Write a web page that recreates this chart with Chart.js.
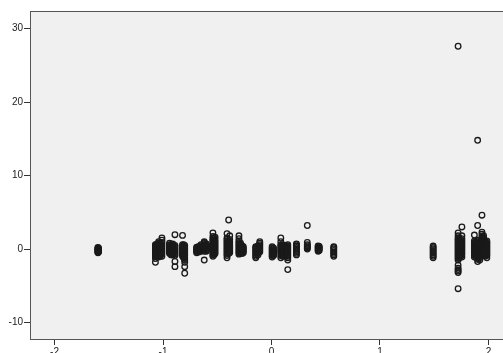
<!DOCTYPE html>
<html>
<head>
<meta charset="utf-8">
<script src="https://cdn.jsdelivr.net/npm/chart.js@4/dist/chart.umd.min.js"></script>
<style>
  html,body{margin:0;padding:0;background:#fff;overflow:hidden;width:503px;height:353px;}
  #wrap{position:absolute;left:0;top:0;}
</style>
</head>
<body>
<div id="wrap"><canvas id="chart" width="520" height="365"></canvas></div>
<script>
// x position of each vertical strip of cases, and the y values in that strip
const stripX = [
  -1.60, -1.595,
  -1.07, -1.055, -1.04, -1.025, -1.01, -0.94, -0.925, -0.91, -0.89, -0.82, -0.81, -0.80,
  -0.69, -0.67, -0.65, -0.62, -0.60, -0.54, -0.53, -0.52, -0.41, -0.395, -0.385,
  -0.30, -0.285, -0.27, -0.26, -0.145, -0.125, -0.108,
  0.006, 0.02, 0.086, 0.10, 0.115, 0.13, 0.15, 0.23, 0.33, 0.43, 0.44, 0.574,
  1.49, 1.72, 1.73, 1.745, 1.755, 1.87, 1.885, 1.90, 1.92, 1.94, 1.955, 1.97, 1.985
];
const stripY = [
  [-0.5,-0.4,-0.3,-0.2,-0.1,0,0.1,0.2],
  [-0.45,-0.35,-0.25,-0.15,-0.05,0.05,0.15],
  [-1.8,-1.3,-1.0,-0.85,-0.7,-0.55,-0.4,-0.25,-0.1,0.05,0.2,0.35,0.5,0.6],
  [-1.1,-0.9,-0.7,-0.5,-0.3,-0.1,0.1,0.3,0.5,0.7],
  [-1.1,-0.9,-0.7,-0.5,-0.3,-0.1,0.1,0.3,0.5,0.8,1.0],
  [-1.0,-0.8,-0.6,-0.4,-0.2,0,0.2,0.4,0.6,0.8],
  [-1.0,-0.6,-0.3,0,0.3,0.6,0.9,1.2,1.5],
  [-0.6,-0.45,-0.3,-0.15,0,0.15,0.3,0.45,0.6,0.8],
  [-0.8,-0.6,-0.4,-0.2,0,0.2,0.4,0.6],
  [-0.8,-0.6,-0.4,-0.2,0,0.2,0.4,0.7],
  [-2.4,-1.7,-0.9,-0.7,-0.5,-0.3,-0.1,0.1,0.3,0.5,1.95],
  [-1.0,-0.8,-0.6,-0.4,-0.2,0,0.2,0.4,0.6,1.85],
  [-1.2,-1.0,-0.8,-0.6,-0.4,-0.2,0,0.2,0.4,0.6],
  [-3.3,-2.4,-1.8,-1.5,-1.3,-1.1,-0.9,-0.7,-0.5,-0.3,-0.1,0.1,0.3,0.5],
  [-0.5,-0.35,-0.2,-0.05,0.1,0.25],
  [-0.4,-0.25,-0.1,0.05,0.2,0.35],
  [-0.3,-0.15,0,0.15,0.3,0.45,0.6],
  [-1.5,-0.3,-0.15,0,0.15,0.3,0.45,0.6,0.75,0.9,1.0],
  [-0.3,-0.1,0.1,0.3,0.5,0.7],
  [-1.0,-0.8,-0.6,-0.4,-0.2,0,0.2,0.4,0.6,0.8,1.0,1.2,1.4,1.7,2.2],
  [-0.8,-0.6,-0.4,-0.2,0,0.2,0.4,0.6,0.8,1.0,1.2,1.5],
  [-0.6,-0.3,0,0.3,0.6,0.9,1.2,1.6],
  [-1.2,-0.9,-0.7,-0.5,-0.3,-0.1,0.1,0.3,0.5,0.7,0.9,1.1,1.3,1.5,2.1],
  [-0.6,-0.4,-0.2,0,0.2,0.4,0.6,0.8,1.0,3.95],
  [-0.5,-0.3,-0.1,0.1,0.3,0.5,0.7,1.0,1.3,1.8],
  [-0.7,-0.5,-0.3,-0.1,0.1,0.3,0.5,0.7,0.9,1.1,1.4,1.8],
  [-0.6,-0.4,-0.2,0,0.2,0.4,0.6,0.8],
  [-0.6,-0.4,-0.2,0,0.2,0.4],
  [-0.5,-0.3,-0.1,0.1,0.3],
  [-1.2,-1.0,-0.8,-0.6,-0.4,-0.2,0,0.2,0.3],
  [-0.8,-0.6,-0.4,-0.2,0,0.2,0.4],
  [-0.4,-0.2,0,0.2,0.4,0.6,0.8,1.0],
  [-1.1,-0.9,-0.7,-0.5,-0.3,-0.1,0.1,0.3],
  [-0.9,-0.7,-0.5,-0.3,-0.1,0.1],
  [-1.2,-0.9,-0.6,-0.4,-0.2,0,0.2,0.4,0.6,1.0,1.5],
  [-1.0,-0.8,-0.6,-0.4,-0.2,0,0.2,0.4,0.6],
  [-0.9,-0.7,-0.5,-0.3,-0.1,0.1,0.3,0.5],
  [-1.0,-0.8,-0.6,-0.4,-0.2,0,0.2,0.5],
  [-2.8,-1.5,-1.2,-1.0,-0.8,-0.6,-0.4,-0.2,0,0.2,0.4,0.6],
  [-0.8,-0.6,-0.4,-0.2,0,0.2,0.4,0.6,0.7],
  [0,0.15,0.3,0.45,0.6,0.9,3.2],
  [-0.3,-0.15,0,0.15,0.3,0.4],
  [-0.2,0,0.2,0.35],
  [-1.0,-0.8,-0.6,-0.4,-0.2,0,0.2,0.3],
  [-1.2,-1.0,-0.8,-0.6,-0.4,-0.2,0,0.2,0.4],
  [-5.4,-3.2,-3.0,-2.8,-2.6,-2.2,-1.5,-1.3,-1.1,-0.9,-0.7,-0.5,-0.3,-0.1,0.1,0.3,0.5,0.7,0.9,1.1,1.3,1.5,1.8,2.2,27.6],
  [-1.2,-1.0,-0.8,-0.6,-0.4,-0.2,0,0.2,0.4,0.6,0.8,1.0,1.2,1.5],
  [-1.0,-0.8,-0.6,-0.4,-0.2,0,0.2,0.4,0.6,0.8,1.0,1.2],
  [-1.1,-0.7,-0.4,-0.1,0.2,0.5,0.8,1.1,1.4,1.8,3.0],
  [-1.1,-0.9,-0.7,-0.5,-0.3,-0.1,0.1,0.3,0.5,0.7,0.9,1.1,1.9],
  [-1.0,-0.8,-0.6,-0.4,-0.2,0,0.2,0.4,0.6,0.8,1.0],
  [-1.7,-1.4,-1.2,-1.0,-0.8,-0.6,-0.4,-0.2,0,0.2,0.4,0.6,0.8,1.0,1.2,3.2,14.8],
  [-1.5,-1.2,-1.0,-0.8,-0.6,-0.4,-0.2,0,0.2,0.4,0.6,0.8,1.0],
  [-0.9,-0.7,-0.5,-0.3,-0.1,0.1,0.3,0.5,0.7,0.9,1.1,1.3,1.5,1.7,2.0,2.3,4.6],
  [-0.8,-0.6,-0.4,-0.2,0,0.2,0.4,0.6,0.8,1.0,1.2,1.5,1.8],
  [-1.0,-0.8,-0.6,-0.4,-0.2,0,0.2,0.4,0.6,0.8,1.0],
  [-1.2,-0.9,-0.7,-0.5,-0.3,-0.1,0.1,0.3,0.5,0.7,0.9,1.1]
];
const xTicks = [-2, -1, 0, 1, 2];
const yTicks = [-10, 0, 10, 20, 30];

const points = [];
stripX.forEach((x, i) => stripY[i].forEach(y => points.push({x, y})));

const plotFrame = {
  id: 'plotFrame',
  beforeDatasetsDraw(chart){
    const {ctx, chartArea:a} = chart;
    ctx.save(); ctx.fillStyle = '#f0f0f0';
    ctx.fillRect(a.left, a.top, a.right - a.left, a.bottom - a.top);
    ctx.restore();
  },
  afterDraw(chart){
    const {ctx, chartArea:a} = chart;
    ctx.save(); ctx.strokeStyle = '#555'; ctx.lineWidth = 1;
    ctx.strokeRect(a.left + 0.5, a.top + 0.5, a.right - a.left, a.bottom - a.top);
    ctx.restore();
  }
};

const tickFont = {family: 'Liberation Sans, Arial, sans-serif', size: 10};

new Chart(document.getElementById('chart').getContext('2d'), {
  type: 'scatter',
  data: {datasets: [{
    data: points,
    pointRadius: 2.8,
    pointBorderWidth: 1.3,
    borderColor: '#1a1a1a',
    backgroundColor: 'rgba(0,0,0,0)'
  }]},
  options: {
    responsive: false,
    animation: false,
    devicePixelRatio: 1,
    layout: {padding: {top: 11, right: 7, left: 0, bottom: 0}},
    plugins: {legend: {display: false}, tooltip: {enabled: false}},
    scales: {
      x: {
        type: 'linear', min: -2.226, max: 2.226,
        afterBuildTicks: s => { s.ticks = xTicks.map(v => ({value: v})); },
        afterFit: s => { s.height = 26; },
        border: {display: false},
        grid: {drawOnChartArea: false, drawTicks: true, tickLength: 6, color: '#333'},
        ticks: {color: '#222', font: tickFont, padding: 1, maxRotation: 0}
      },
      y: {
        type: 'linear', min: -12.25, max: 32.4,
        afterBuildTicks: s => { s.ticks = yTicks.map(v => ({value: v})); },
        afterFit: s => { s.width = 30; },
        border: {display: false},
        grid: {drawOnChartArea: false, drawTicks: true, tickLength: 6, color: '#333'},
        ticks: {color: '#222', font: tickFont, padding: 1}
      }
    }
  },
  plugins: [plotFrame]
});
</script>
</body>
</html>
